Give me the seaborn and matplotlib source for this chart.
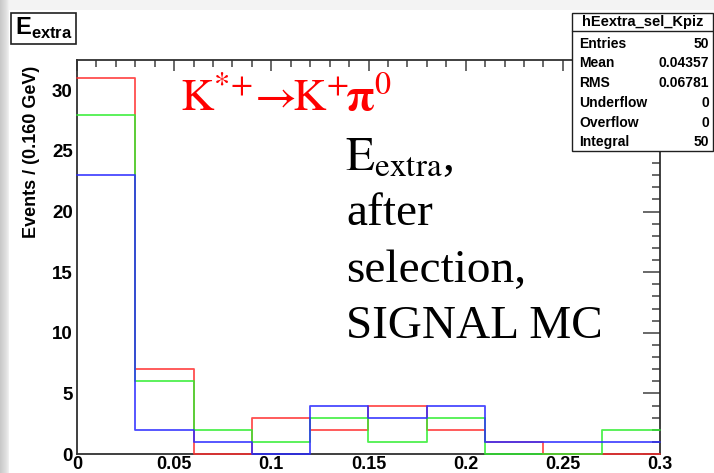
import matplotlib
matplotlib.use("Agg")
import matplotlib.pyplot as plt
import seaborn as sns
from matplotlib.patches import Rectangle
from matplotlib.lines import Line2D
from matplotlib.ticker import MultipleLocator

# Binning and per-bin event counts for the three samples
bin_edges = [0.0, 0.03, 0.06, 0.09, 0.12, 0.15, 0.18, 0.21, 0.24, 0.27, 0.30]
counts_red = [31, 7, 0, 3, 2, 4, 2, 1, 0, 0]
counts_green = [28, 6, 2, 1, 3, 1, 3, 0, 0, 2]
counts_blue = [23, 2, 1, 0, 4, 3, 4, 1, 1, 1]

x_ticks = [0, 0.05, 0.1, 0.15, 0.2, 0.25, 0.3]
x_tick_labels = ["0", "0.05", "0.1", "0.15", "0.2", "0.25", "0.3"]
y_ticks = [0, 5, 10, 15, 20, 25, 30]
y_tick_labels = ["0", "5", "10", "15", "20", "25", "30"]

stats_title = "hEextra_sel_Kpiz"
stats_labels = ["Entries", "Mean", "RMS", "Underflow", "Overflow", "Integral"]
stats_values = ["50", "0.04357", "0.06781", "0", "0", "50"]

W, H = 714, 473

sns.set_theme(style="white")
plt.rcParams["font.family"] = ["Liberation Sans", "DejaVu Sans"]
plt.rcParams["mathtext.rm"] = "Liberation Sans"
plt.rcParams["mathtext.bf"] = "Liberation Sans:bold"


def fx(px):
    return px / W


def fy(py):
    return 1 - py / H


fig = plt.figure(figsize=(W / 100, H / 100), dpi=100)
fig.patch.set_facecolor("white")

# soft grey frame on the left and top edges
for i, c in enumerate(["#c9c9c9", "#cdcdcd", "#d1d1d1", "#d5d5d5", "#d9d9d9",
                       "#dddddd", "#e2e2e2", "#e8e8e8", "#efefef"]):
    fig.patches.append(Rectangle((fx(i), 0), fx(1), 1, transform=fig.transFigure,
                                 facecolor=c, edgecolor="none", zorder=0))
fig.patches.append(Rectangle((fx(9), fy(10)), 1, fy(0) - fy(10), transform=fig.transFigure,
                             facecolor="#f3f3f3", edgecolor="none", zorder=0))

ax = fig.add_axes([fx(77), fy(454), fx(660) - fx(77), fy(60) - fy(454)])
ax.set_facecolor("white")

centers = [(a + b) / 2 for a, b in zip(bin_edges[:-1], bin_edges[1:])]
for counts, color in [(counts_red, "#ff3030"), (counts_green, "#30ee30"), (counts_blue, "#2a2aff")]:
    sns.histplot(x=centers, weights=counts, bins=bin_edges, element="step", fill=False,
                 color=color, linewidth=1.3, alpha=0.85, ax=ax, clip_on=False, zorder=3)

ax.set_xlim(0, 0.3)
ax.set_ylim(0, 32.5)
ax.set_xlabel("")
ax.set_ylabel("")
ax.set_xticks(x_ticks, x_tick_labels)
ax.set_yticks(y_ticks, y_tick_labels)
ax.xaxis.set_minor_locator(MultipleLocator(0.01))
ax.yaxis.set_minor_locator(MultipleLocator(1))

for sp in ax.spines.values():
    sp.set_color("#303030")
    sp.set_linewidth(1.3)
    sp.set_visible(True)

ax.tick_params(axis="both", which="both", direction="in", top=True, right=True,
               color="#404040", width=1.1)
ax.tick_params(axis="x", which="major", length=8, pad=1.5)
ax.tick_params(axis="x", which="minor", length=5)
ax.tick_params(axis="y", which="major", length=12.5, pad=3)
ax.tick_params(axis="y", which="minor", length=6)
for lab in ax.get_yticklabels():
    lab.set_fontweight("bold")
    lab.set_fontsize(13.5)
    lab.set_color("black")
for lab in ax.get_xticklabels():
    lab.set_fontweight("bold")
    lab.set_fontsize(13)
    lab.set_color("black")

fig.text(fx(32), fy(152), "Events / (0.160 GeV)", rotation=90, ha="center", va="center",
         fontsize=13, fontweight="bold", color="black")

# title box
fig.patches.append(Rectangle((fx(11), fy(44)), fx(76) - fx(11), fy(13) - fy(44),
                             transform=fig.transFigure, facecolor="white",
                             edgecolor="#202020", linewidth=1.2, zorder=5))
fig.text(fx(15), fy(35), r"$\mathbf{E}_{\mathbf{extra}}$", fontsize=17, color="black",
         ha="left", va="baseline", math_fontfamily="custom", zorder=6)

# statistics box
bx0, by0, bx1, by1 = 572, 13, 713, 151
fig.patches.append(Rectangle((fx(bx0), fy(by1)), fx(bx1) - fx(bx0), fy(by0) - fy(by1),
                             transform=fig.transFigure, facecolor="white",
                             edgecolor="#202020", linewidth=1.0, zorder=5))
fig.lines.append(Line2D([fx(bx0), fx(bx1)], [fy(31), fy(31)], transform=fig.transFigure,
                        color="#202020", linewidth=1.0, zorder=6))
fig.text(fx((bx0 + bx1) / 2), fy(22), stats_title, ha="center", va="center",
         fontsize=10.5, fontweight="bold", color="black", zorder=7)
row_y = [44, 63, 83, 103, 123, 142]
for yy, lab, val in zip(row_y, stats_labels, stats_values):
    fig.text(fx(579), fy(yy), lab, ha="left", va="center", fontsize=10,
             fontweight="bold", color="black", zorder=7)
    fig.text(fx(709), fy(yy), val, ha="right", va="center", fontsize=10,
             fontweight="bold", color="black", zorder=7)

# decay label
fig.text(fx(180), fy(111),
         r"$\mathrm{K}^{*\!+}\!\!\rightarrow\!\!\mathrm{K}^{+}\!\mathbf{\pi}^{0}$",
         color="red", fontsize=33, ha="left", va="baseline", math_fontfamily="stix")

# description block
serif = ["Liberation Serif", "DejaVu Serif"]
fig.text(fx(345), fy(170), r"$\mathrm{E}_{\mathrm{extra}}$,", family=serif, fontsize=34,
         color="black", ha="left", va="baseline", math_fontfamily="stix")
for yy, line in zip([225, 282, 338], ["after", "selection,", "SIGNAL MC"]):
    fig.text(fx(346), fy(yy), line, family=serif, fontsize=34, color="black",
             ha="left", va="baseline")

fig.savefig("out.png", dpi=100)
